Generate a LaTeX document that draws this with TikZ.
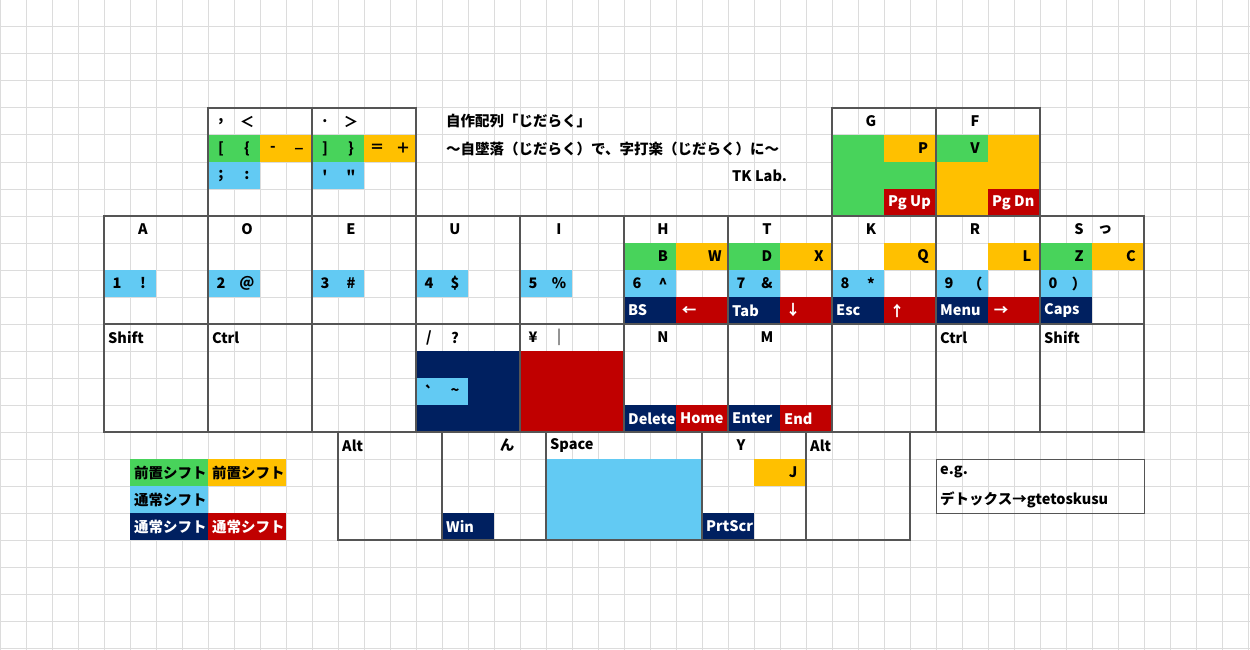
\documentclass[tikz,border=0pt]{standalone}
\usepackage{fontspec}
\setmainfont{Noto Sans CJK JP}[Ligatures=TeXOff]
\usepackage{tikz}

\definecolor{shgreen}{HTML}{48D35B}
\definecolor{shorange}{HTML}{FFC000}
\definecolor{shblue}{HTML}{62CAF3}
\definecolor{shnavy}{HTML}{002060}
\definecolor{shred}{HTML}{C00000}
\definecolor{gridgray}{HTML}{DCDCDC}
\definecolor{keyline}{HTML}{555555}

\newcommand{\cellfill}[5]{\fill[#1] (#2,#3) rectangle ++(#4,#5);}

\begin{document}
\begin{tikzpicture}[x=26pt,y=-27pt]
  \tikzstyle{keybox}=[draw=keyline,line width=2pt]
  \tikzstyle{lbl}=[inner sep=0pt,font=\bfseries\fontsize{14.5}{16}\selectfont]
  \tikzstyle{lft}=[lbl,anchor=west,xshift=4pt]
  \tikzstyle{wlft}=[lft,text=white]
  \tikzstyle{wlbl}=[lbl,text=white]
  \useasboundingbox (0,0) rectangle (48.0769,24.0741);
  \fill[white] (0,0) rectangle (48.0769,24.0741);

  % sheet grid
  \foreach \c in {0,...,48}
    \draw[gridgray,line width=1pt] (\c,0) -- (\c,24.0741);
  \foreach \r in {0,...,24}
    \draw[gridgray,line width=1pt] (0,\r) -- (48.0769,\r);

  % top keys
  \cellfill{shgreen}{8}{5}{2}{1}
  \cellfill{shorange}{10}{5}{2}{1}
  \cellfill{shblue}{8}{6}{2}{1}
  \cellfill{shgreen}{12}{5}{2}{1}
  \cellfill{shorange}{14}{5}{2}{1}
  \cellfill{shblue}{12}{6}{2}{1}
  \cellfill{shgreen}{32}{5}{4}{3}
  \cellfill{shorange}{34}{5}{2}{1}
  \cellfill{shred}{34}{7}{2}{1}
  \cellfill{shorange}{36}{5}{4}{3}
  \cellfill{shgreen}{36}{5}{2}{1}
  \cellfill{shred}{38}{7}{2}{1}

  % home row
  \foreach \c in {4,8,...,40}
    {\cellfill{shblue}{\c}{10}{2}{1}}
  \foreach \c in {24,28,40}
    {\cellfill{shgreen}{\c}{9}{2}{1}}
  \foreach \c in {26,30,34,38,42}
    {\cellfill{shorange}{\c}{9}{2}{1}}
  \foreach \c in {24,28,32,36,40}
    {\cellfill{shnavy}{\c}{11}{2}{1}}
  \foreach \c in {26,30,34,38}
    {\cellfill{shred}{\c}{11}{2}{1}}

  % lower row
  \cellfill{shnavy}{16}{13}{4}{3}
  \cellfill{shblue}{16}{14}{2}{1}
  \cellfill{shred}{20}{13}{4}{3}
  \cellfill{shnavy}{24}{15}{2}{1}
  \cellfill{shred}{26}{15}{2}{1}
  \cellfill{shnavy}{28}{15}{2}{1}
  \cellfill{shred}{30}{15}{2}{1}

  % thumb row
  \cellfill{shnavy}{17}{19}{2}{1}
  \cellfill{shblue}{21}{17}{6}{3}
  \cellfill{shorange}{29}{17}{2}{1}
  \cellfill{shnavy}{27}{19}{2}{1}

  % legend
  \cellfill{shgreen}{5}{17}{3}{1}
  \cellfill{shorange}{8}{17}{3}{1}
  \cellfill{shblue}{5}{18}{3}{1}
  \cellfill{shnavy}{5}{19}{3}{1}
  \cellfill{shred}{8}{19}{3}{1}

  % key outlines
  \foreach \c in {8,12,32,36}
    \draw[keybox] (\c,4) rectangle ++(4,4);
  \foreach \c in {4,8,...,40}
    \draw[keybox] (\c,8) rectangle ++(4,4);
  \foreach \c in {4,8,...,40}
    \draw[keybox] (\c,12) rectangle ++(4,4);
  \draw[keybox] (13,16) rectangle ++(4,4);
  \draw[keybox] (17,16) rectangle ++(4,4);
  \draw[keybox] (21,16) rectangle ++(6,4);
  \draw[keybox] (27,16) rectangle ++(4,4);
  \draw[keybox] (31,16) rectangle ++(4,4);
  \draw[keyline,line width=1pt] (36,17) rectangle ++(8,2);

  % top key labels
  \node[lbl] (comma)  at (8.5,4.5)  {,};
  \node[lbl] (lt)     at (9.5,4.5)  {＜};
  \node[lbl] (lbrk)   at (8.5,5.5)  {[};
  \node[lbl] (lbrc)   at (9.5,5.5)  {\{};
  \node[lbl] (minus)  at (10.5,5.5) {-};
  \node[lbl] (uscore) at (11.5,5.5) {\_};
  \node[lbl] (semi)   at (8.5,6.5)  {;};
  \node[lbl] (colon)  at (9.5,6.5)  {:};
  \node[lbl] (period) at (12.5,4.5) {.};
  \node[lbl] (gt)     at (13.5,4.5) {＞};
  \node[lbl] (rbrk)   at (12.5,5.5) {]};
  \node[lbl] (rbrc)   at (13.5,5.5) {\}};
  \node[lbl] (equal)  at (14.5,5.5) {＝};
  \node[lbl] (plus)   at (15.5,5.5) {＋};
  \node[lbl] (squote) at (12.5,6.5) {'};
  \node[lbl] (dquote) at (13.5,6.5) {"};

  % title
  \node[lft] (title)    at (17,4.5) {自作配列「じだらく」};
  \node[lft] (subtitle) at (17,5.5) {〜自墜落（じだらく）で、字打楽（じだらく）に〜};
  \node[lft] (author)   at (28,6.5) {TK Lab.};

  \node[lbl]  (kG)   at (33.5,4.5) {G};
  \node[lbl]  (kP)   at (35.5,5.5) {P};
  \node[wlft] (pgup) at (34,7.5)   {Pg Up};
  \node[lbl]  (kF)   at (37.5,4.5) {F};
  \node[lbl]  (kV)   at (37.5,5.5) {V};
  \node[wlft] (pgdn) at (38,7.5)   {Pg Dn};

  % home row labels
  \foreach \c/\k/\d/\s [count=\i] in {4/A/1/!,8/O/2/@,12/E/3/\#,16/U/4/\$,20/I/5/\%,
      24/H/6/\textasciicircum,28/T/7/\&,32/K/8/*,36/R/9/（,40/S/0/）}{
    \node[lbl] (key\i) at (\c+1.5,8.5)  {\k};
    \node[lbl] (num\i) at (\c+0.5,10.5) {\d};
    \node[lbl] (sym\i) at (\c+1.5,10.5) {\s};
  }
  \node[lbl] (ktsu) at (42.5,8.5) {っ};
  \node[lbl] (kB) at (25.5,9.5) {B};
  \node[lbl] (kW) at (27.5,9.5) {W};
  \node[lbl] (kD) at (29.5,9.5) {D};
  \node[lbl] (kX) at (31.5,9.5) {X};
  \node[lbl] (kQ) at (35.5,9.5) {Q};
  \node[lbl] (kL) at (39.5,9.5) {L};
  \node[lbl] (kZ) at (41.5,9.5) {Z};
  \node[lbl] (kC) at (43.5,9.5) {C};
  \node[wlft] (bs)    at (24,11.5) {BS};
  \node[wlbl] (left)  at (26.5,11.5) {←};
  \node[wlft] (tab)   at (28,11.5) {Tab};
  \node[wlbl] (down)  at (30.5,11.5) {↓};
  \node[wlft] (esc)   at (32,11.5) {Esc};
  \node[wlbl] (up)    at (34.5,11.5) {↑};
  \node[wlft] (menu)  at (36,11.5) {Menu};
  \node[wlbl] (right) at (38.5,11.5) {→};
  \node[wlft] (caps)  at (40,11.5) {Caps};

  % lower row labels
  \node[lft] (shiftl) at (4,12.5)  {Shift};
  \node[lft] (ctrll)  at (8,12.5)  {Ctrl};
  \node[lbl] (slash)  at (16.5,12.5) {/};
  \node[lbl] (quest)  at (17.5,12.5) {?};
  \node[lbl] (grave)  at (16.5,14.5) {`};
  \node[lbl] (tilde)  at (17.5,14.5) {\textasciitilde};
  \node[lbl] (yen)    at (20.5,12.5) {¥};
  \node[lbl,text=gray] (vbar) at (21.5,12.5) {|};
  \node[lbl] (kN)     at (25.5,12.5) {N};
  \node[wlft] (del)   at (24,15.5) {Delete};
  \node[wlft] (home)  at (26,15.5) {Home};
  \node[lbl] (kM)     at (29.5,12.5) {M};
  \node[wlft] (enter) at (28,15.5) {Enter};
  \node[wlft] (end)   at (30,15.5) {End};
  \node[lft] (ctrlr)  at (36,12.5) {Ctrl};
  \node[lft] (shiftr) at (40,12.5) {Shift};

  % thumb row labels
  \node[lft]  (altl)   at (13,16.5)  {Alt};
  \node[lbl]  (kn)     at (19.5,16.5) {ん};
  \node[wlft] (win)    at (17,19.5)  {Win};
  \node[lft]  (space)  at (21,16.5)  {Space};
  \node[lbl]  (kY)     at (28.5,16.5) {Y};
  \node[lbl]  (kJ)     at (30.5,17.5) {J};
  \node[wlft] (prtscr) at (27,19.5)  {PrtScr};
  \node[lft]  (altr)   at (31,16.5)  {Alt};

  % legend
  \node[lft]  (pregreen)  at (5,17.5) {前置シフト};
  \node[lft]  (preorange) at (8,17.5) {前置シフト};
  \node[lft]  (normblue)  at (5,18.5) {通常シフト};
  \node[wlft] (normnavy)  at (5,19.5) {通常シフト};
  \node[wlft] (normred)   at (8,19.5) {通常シフト};

  % example
  \node[lft] (eg)     at (36,17.5) {e.g.};
  \node[lft] (egtext) at (36,18.5) {デトックス→gtetoskusu};
\end{tikzpicture}
\end{document}
